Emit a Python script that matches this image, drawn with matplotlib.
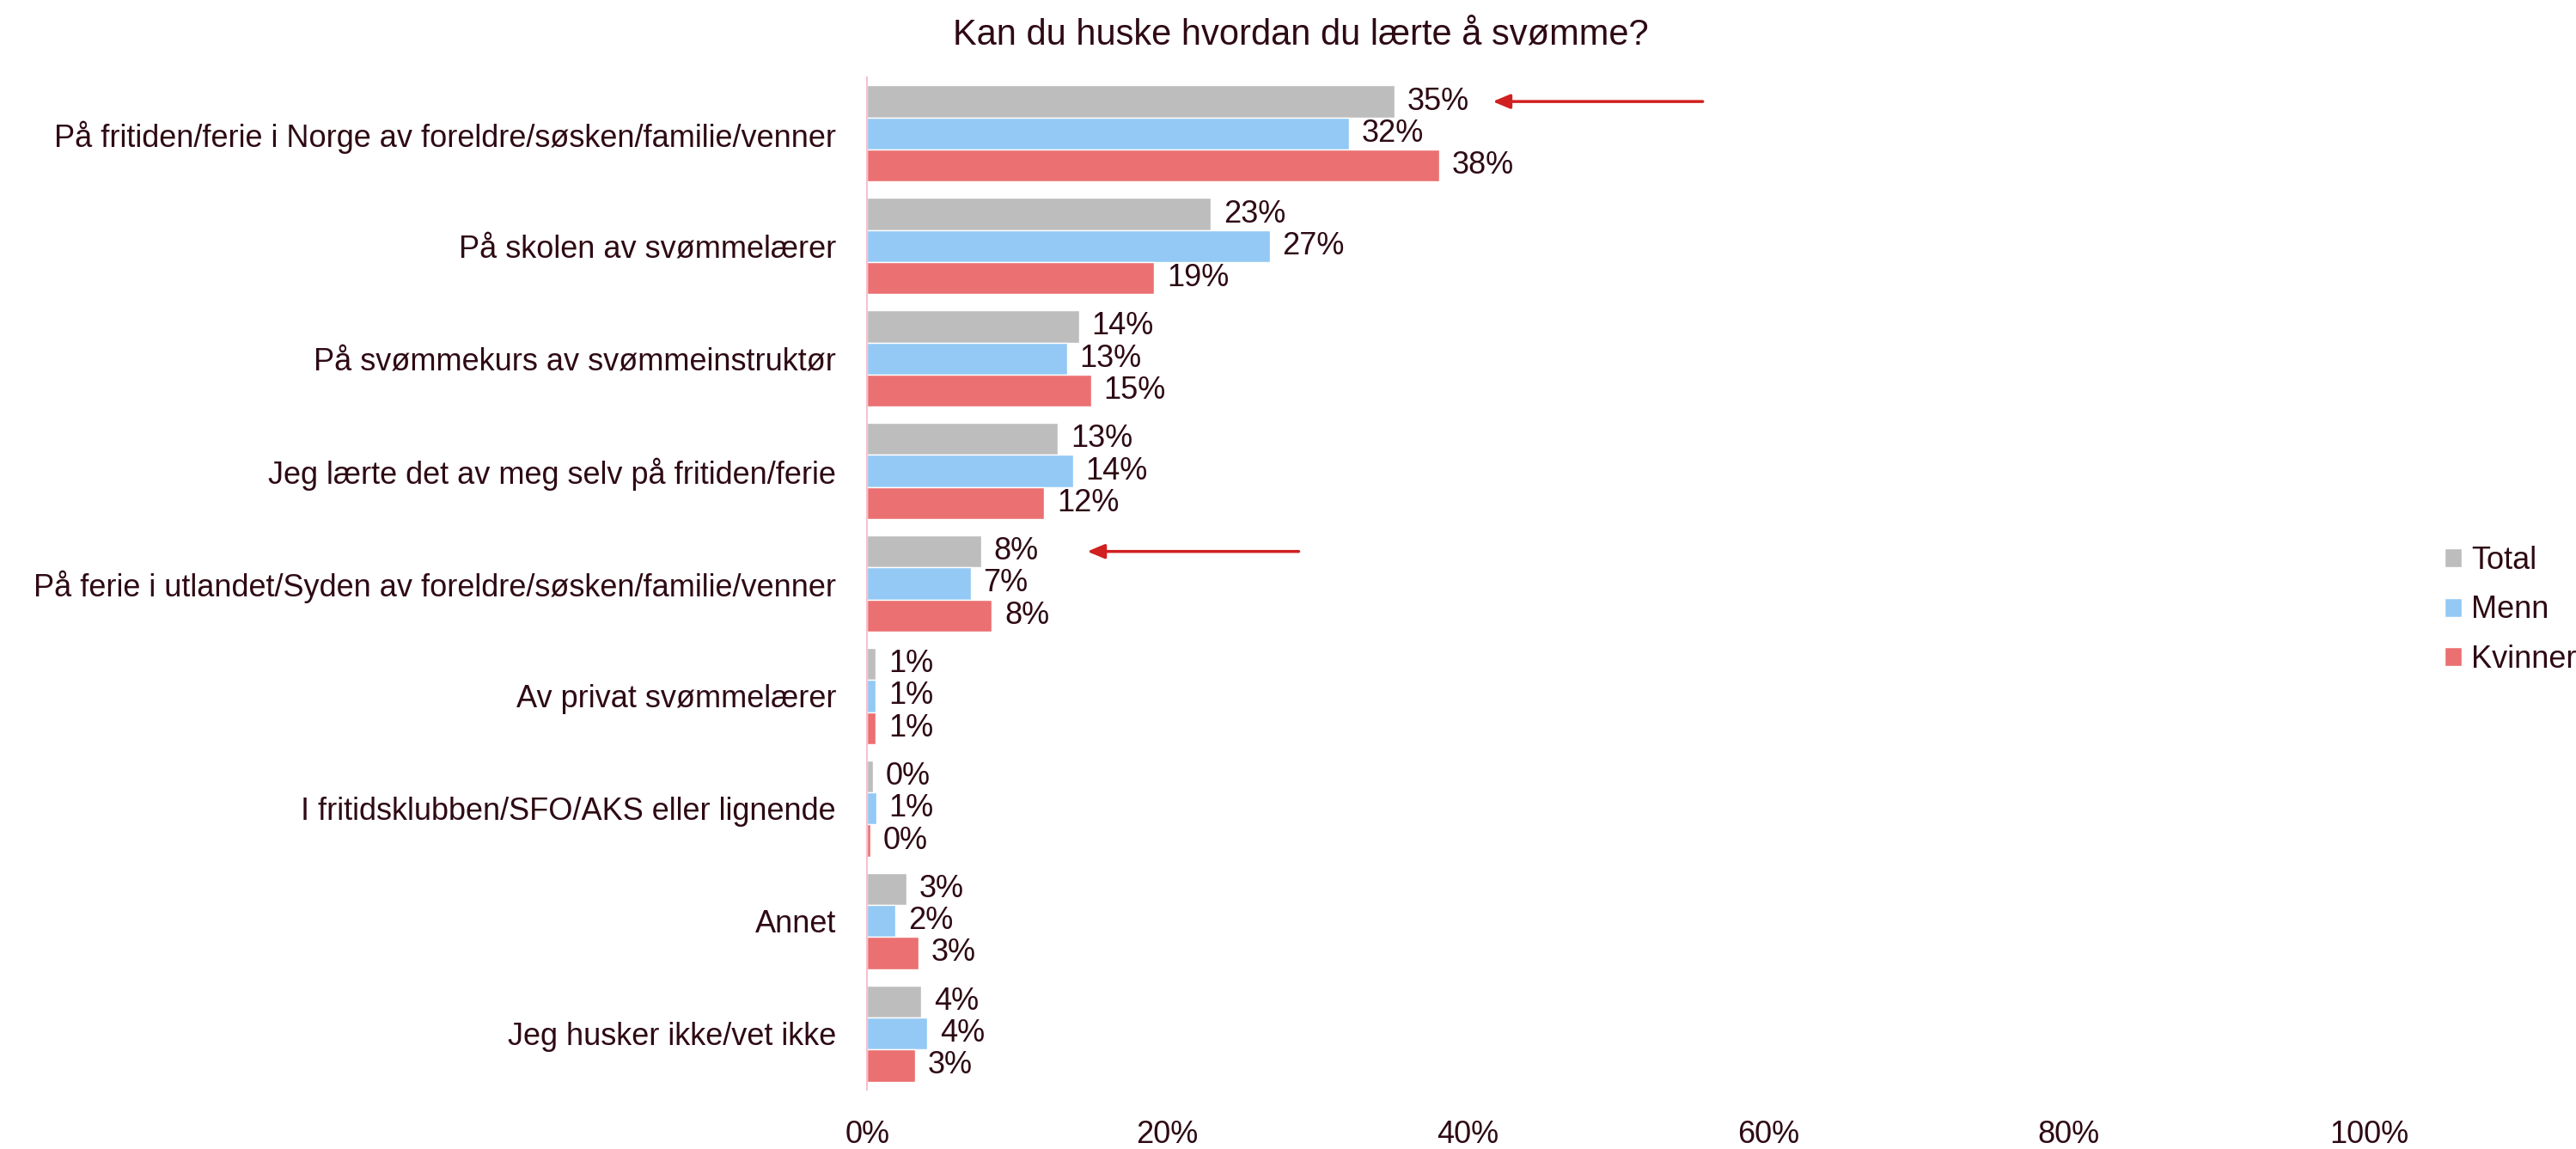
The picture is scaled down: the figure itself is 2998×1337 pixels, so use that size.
import numpy as np
import matplotlib
matplotlib.use("Agg")
from matplotlib import pyplot as plt

categories = [
    "På fritiden/ferie i Norge av foreldre/søsken/familie/venner",
    "På skolen av svømmelærer",
    "På svømmekurs av svømmeinstruktør",
    "Jeg lærte det av meg selv på fritiden/ferie",
    "På ferie i utlandet/Syden av foreldre/søsken/familie/venner",
    "Av privat svømmelærer",
    "I fritidsklubben/SFO/AKS eller lignende",
    "Annet",
    "Jeg husker ikke/vet ikke",
]
series_names = ["Total", "Menn", "Kvinner"]
total = [35.1, 22.9, 14.1, 12.7, 7.6, 0.57, 0.38, 2.6, 3.6]
menn = [32.1, 26.8, 13.3, 13.7, 6.9, 0.57, 0.6, 1.9, 4.0]
kvinner = [38.1, 19.1, 14.9, 11.8, 8.3, 0.57, 0.2, 3.4, 3.2]
x_ticks = [0, 20, 40, 60, 80, 100]

# arrows: (category index, head x, tail x) in percent
arrows = [(0, 41.5, 55.8), (4, 14.5, 28.9)]

colors = ["#bdbdbd", "#93c9f4", "#eb7072"]
text_color = "#2e0a14"

plt.rcParams["font.family"] = ["Liberation Sans", "DejaVu Sans"]

fig = plt.figure(figsize=(29.98, 13.37), dpi=100)
ax = fig.add_axes([0.3366, 0.0516, 0.5830, 0.8811])

y = np.arange(len(categories))
h = 0.285
for i, vals in enumerate([total, menn, kvinner]):
    pos = y - h + i * h
    ax.barh(pos, vals, height=h, color=colors[i], edgecolor="white",
            linewidth=1, label=series_names[i])
    for p, v in zip(pos, vals):
        ax.text(v + 0.85, p, f"{round(v):d}%", va="center", ha="left",
                fontsize=26, color=text_color)

for ci, head, tail in arrows:
    yy = ci - h
    ax.annotate("", xy=(head, yy), xytext=(tail, yy),
                arrowprops=dict(arrowstyle="-|>,head_length=1.2,head_width=0.5",
                                color="#d0201f", lw=2.5))

ax.set_xlim(0, 100)
ax.set_ylim(len(categories) - 0.5, -0.5)
ax.set_yticks(y)
ax.set_yticklabels(categories, fontsize=26, color=text_color)
ax.set_xticks(x_ticks)
ax.set_xticklabels([f"{t}%" for t in x_ticks], fontsize=26, color=text_color)
ax.tick_params(axis="y", length=0, pad=26)
ax.tick_params(axis="x", length=0, pad=25)
for s in ["top", "right", "bottom"]:
    ax.spines[s].set_visible(False)
ax.spines["left"].set_color("#f8c0d0")
ax.spines["left"].set_linewidth(1.5)

fig.text(0.505, 0.97, "Kan du huske hvordan du lærte å svømme?", ha="center",
         va="center", fontsize=30, color=text_color)

leg = fig.legend(loc="center left", bbox_to_anchor=(0.949, 0.469), frameon=False,
                 fontsize=26, handlelength=0.55, handleheight=0.55,
                 handletextpad=0.3, labelspacing=0.62, labelcolor=text_color,
                 borderpad=0, borderaxespad=0)

fig.savefig("out.png", dpi=100)
